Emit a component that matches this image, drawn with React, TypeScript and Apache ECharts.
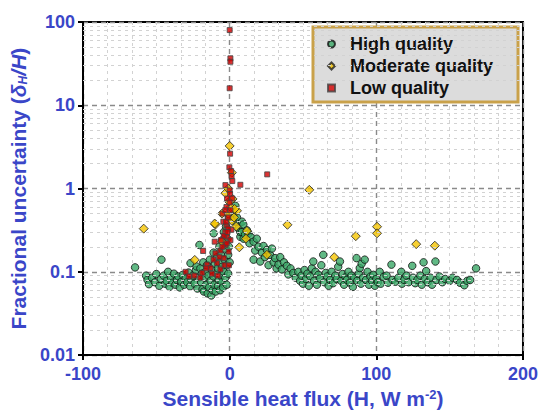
import React, { useEffect, useRef } from "react";
import * as echarts from "echarts";

const xTicks = [-100, 0, 100, 200];
const yDecades = [0.01, 0.1, 1, 10, 100];
const minorY = [
  0.02, 0.03, 0.04, 0.05, 0.06, 0.07, 0.08, 0.09,
  0.2, 0.3, 0.4, 0.5, 0.6, 0.7, 0.8, 0.9,
  2, 3, 4, 5, 6, 7, 8, 9,
  20, 30, 40, 50, 60, 70, 80, 90,
];

const highQuality: [number, number][] = [
  [-64.5, 0.113], [-57, 0.09], [-56, 0.08], [-55, 0.071], [-53, 0.085], [-51, 0.075], [-50, 0.094], [-48, 0.068],
  [-47, 0.082], [-46.5, 0.14], [-45, 0.09], [-44, 0.072], [-43, 0.078], [-42, 0.1], [-41, 0.066], [-40, 0.085],
  [-39, 0.074], [-38, 0.095], [-37, 0.07], [-36, 0.08], [-35, 0.088], [-34, 0.065], [-33, 0.076], [-32, 0.092],
  [-31, 0.07], [-30, 0.083], [-29, 0.075], [-28, 0.098], [-27, 0.067], [-26.7, 0.127], [-26, 0.08], [-25, 0.09],
  [-24, 0.072], [-23, 0.105], [-22.6, 0.116], [-22, 0.063], [-21, 0.085],
  [-20.6, 0.21], [-20, 0.11], [-19.5, 0.075], [-19, 0.095], [-18.5, 0.062], [-18, 0.13], [-17.6, 0.058], [-17, 0.085],
  [-16.5, 0.1], [-16, 0.07], [-15.5, 0.12], [-15, 0.055], [-14.5, 0.09], [-14, 0.065], [-13.5, 0.14], [-13, 0.078],
  [-12.5, 0.052], [-12, 0.105], [-11.5, 0.06], [-11, 0.17], [-10.9, 0.29], [-11, 0.088], [-10.5, 0.07], [-10, 0.125],
  [-9.5, 0.058], [-9, 0.095], [-8.5, 0.15], [-8, 0.068], [-8, 0.11], [-7.5, 0.08], [-7, 0.2], [-7, 0.13],
  [-6.5, 0.06], [-6, 0.09], [-6, 0.16], [-5.5, 0.075], [-5, 0.24], [-5, 0.115], [-4.5, 0.065], [-4, 0.1],
  [-4, 0.3], [-3.5, 0.14], [-3, 0.085], [-3, 0.19], [-2.5, 0.35], [-2, 0.12], [-2, 0.07], [-1.5, 0.25],
  [-1, 0.16], [-1, 0.095], [-0.5, 0.45], [-0.5, 0.2], [0, 0.13],
  [2.7, 0.5], [3.9, 0.62], [3.9, 0.4], [5, 0.45], [6.1, 0.33], [7.3, 0.263], [7.3, 0.3], [8.4, 0.4],
  [8.4, 0.3], [9.3, 0.37], [9.5, 0.25], [10.5, 0.28], [11.8, 0.315], [12.9, 0.288], [13.5, 0.22], [14.5, 0.26],
  [16.3, 0.23], [16.3, 0.14], [17.4, 0.18], [18.5, 0.25], [19.7, 0.2], [20.8, 0.133], [22, 0.17], [23.1, 0.204],
  [24, 0.15], [25.4, 0.183], [26.5, 0.12], [27.5, 0.16], [28.8, 0.19], [30, 0.13], [31, 0.146], [32, 0.11],
  [33.3, 0.122], [34.5, 0.15], [35.6, 0.107], [37, 0.13], [39, 0.118], [40, 0.093], [41.5, 0.11], [43.4, 0.097],
  [45, 0.085], [46.8, 0.1], [48, 0.078],
  [49, 0.09], [50, 0.072], [51, 0.105], [52, 0.082], [53, 0.095], [54, 0.068], [55, 0.088], [56, 0.11],
  [57, 0.133], [57.5, 0.078], [58.5, 0.1], [59.5, 0.07], [60.5, 0.092], [61.5, 0.083], [62.5, 0.12], [63.8, 0.16],
  [64.5, 0.075], [65.5, 0.097], [66.5, 0.088], [67.5, 0.068], [68.5, 0.08], [69.5, 0.1], [70.5, 0.073], [72, 0.09],
  [73, 0.082], [74, 0.115], [75.2, 0.133], [76, 0.078], [77, 0.094], [78, 0.07], [79, 0.086], [80, 0.08],
  [81, 0.1], [82, 0.074], [83, 0.09], [84, 0.066], [85, 0.085], [86.5, 0.146], [87, 0.078], [88, 0.095],
  [88.7, 0.111], [89.5, 0.072], [90, 0.125], [91, 0.085], [92.1, 0.14], [93, 0.08], [94, 0.1], [95, 0.07],
  [96, 0.088], [97, 0.078], [98, 0.092], [99, 0.068], [100, 0.082], [101, 0.075], [102.3, 0.1], [103, 0.072],
  [105, 0.087], [107, 0.09], [108, 0.074], [110.3, 0.122], [111, 0.08], [113, 0.076], [115, 0.085], [117, 0.1],
  [117.5, 0.072], [119, 0.08], [120.5, 0.09], [122, 0.075], [124.5, 0.118], [125, 0.085], [126.5, 0.073], [128, 0.08],
  [130, 0.09], [131, 0.07], [132.2, 0.13], [133, 0.082], [134, 0.102], [135, 0.075], [137, 0.085], [138, 0.07],
  [140.3, 0.133], [141, 0.08], [143, 0.088], [145, 0.075], [147, 0.082], [150, 0.078], [152, 0.085], [155, 0.08],
  [157, 0.074], [160, 0.069], [162, 0.078], [164, 0.08], [168, 0.11],
];

const moderateQuality: [number, number][] = [
  [-58.6, 0.33], [54.3, 0.965], [39.4, 0.367], [86, 0.268], [100.5, 0.348], [100.5, 0.29], [127.2, 0.215],
  [139.9, 0.206], [71.3, 0.15], [6.6, 0.197], [25.4, 0.16], [5, 0.54], [11.8, 0.31], [11.1, 0.25],
  [0, 3.25], [1.5, 1.55], [-2.9, 0.88], [0.8, 0.6], [-5.2, 0.5], [-1, 0.5], [3.4, 0.57], [-9.7, 0.37],
  [1.6, 0.41], [4.5, 0.35], [-23.8, 0.139], [-10.2, 0.38], [-5.2, 0.23], [-0.5, 0.7], [2, 0.75], [-1, 1.0],
  [3, 0.45],
];

const lowQuality: [number, number][] = [
  [0, 80], [0.5, 36.6], [0.5, 33.3], [0, 16], [0.3, 2.62], [-0.2, 1.8], [1, 1.62], [1.3, 1.41],
  [1.8, 1.23], [-2.9, 1.1], [7.3, 1.11], [25.6, 1.48], [0, 0.95], [0.3, 0.86], [-1.8, 0.76], [1.8, 0.76],
  [-2.2, 0.6], [0, 0.68], [-5, 0.5], [-4.3, 0.4], [-2.2, 0.36], [-2.4, 0.4], [1.2, 0.32], [-18.1, 0.178],
  [-10.2, 0.23], [-6.3, 0.18], [-1.8, 0.263], [-4, 0.146], [-15.4, 0.122], [-13.1, 0.111], [-18.7, 0.097],
  [-30, 0.1], [-27.8, 0.088], [-8.6, 0.127], [-6.3, 0.107], [-9.7, 0.167], [-2.9, 0.21], [-0.7, 0.175],
  [0.5, 0.24], [-3, 0.3], [-1, 0.33], [-4, 0.27], [-2, 0.22], [-5, 0.2], [-7, 0.15], [-11, 0.14],
  [-12, 0.095], [-8, 0.09], [-3.5, 0.12], [-1, 0.45], [-3, 0.55], [0.5, 0.55], [-1.5, 0.3], [-6, 0.24],
  [-0.5, 0.12], [-20, 0.085], [-24, 0.09], [-16, 0.11],
];

const BLUE = "#3a46c8";
const FONT = "Liberation Sans, Arial, sans-serif";

export default function App() {
  const ref = useRef<HTMLDivElement>(null);
  useEffect(() => {
    if (!ref.current) return;
    const chart = echarts.init(ref.current, null, { renderer: "svg" });
    const option: any = {
      animation: false,
      backgroundColor: "#ffffff",
      grid: {
        left: 83, right: 17, top: 22, bottom: 54,
        show: true, borderColor: "#000", borderWidth: 2, backgroundColor: "transparent",
      },
      legend: {
        data: ["High quality", "Moderate quality", "Low quality"],
        orient: "vertical",
        left: 313, top: 27,
        backgroundColor: "#dcdcdc",
        borderColor: "#c9a14a",
        borderWidth: 3,
        padding: [8, 25, 5, 14],
        itemWidth: 7, itemHeight: 7, itemGap: 4,
        textStyle: { fontSize: 18, fontWeight: "bold", color: "#111", fontFamily: FONT, lineHeight: 18, padding: [0, 0, 0, 10] },
      },
      xAxis: {
        type: "value",
        min: xTicks[0], max: xTicks[xTicks.length - 1], interval: 100,
        name: "{a|Sensible heat flux (H, W m}{s|-2}{a|)}",
        nameLocation: "middle", nameGap: 32,
        nameTextStyle: {
          rich: {
            a: { fontSize: 21, fontWeight: "bold", color: BLUE, fontFamily: FONT },
            s: { fontSize: 13, fontWeight: "bold", color: BLUE, fontFamily: FONT, verticalAlign: "top", padding: [0, 0, 8, 0] },
          },
        },
        axisLine: { show: true, onZero: false, lineStyle: { color: "#000", width: 2 } },
        axisTick: { show: true, length: 5, lineStyle: { color: "#000", width: 2 } },
        axisLabel: { fontSize: 18, fontWeight: "bold", color: BLUE, fontFamily: FONT, margin: 10 },
        splitLine: { show: true, lineStyle: { color: "#8a8a8a", type: [5, 4], width: 1.4 } },
        minorTick: { show: false, splitNumber: 6 },
        minorSplitLine: { show: true, lineStyle: { color: "#d2d2d2", type: [3, 4], width: 1 } },
      },
      yAxis: {
        type: "log", logBase: 10,
        min: yDecades[0], max: yDecades[yDecades.length - 1],
        name: "{a|Fractional uncertainty (}{i|δ}{u|H}{i|/H}{a|)}",
        nameLocation: "middle", nameGap: 50,
        nameTextStyle: {
          rich: {
            a: { fontSize: 21, fontWeight: "bold", color: BLUE, fontFamily: FONT },
            i: { fontSize: 21, fontWeight: "bold", fontStyle: "italic", color: BLUE, fontFamily: FONT },
            u: { fontSize: 12, fontWeight: "bold", fontStyle: "italic", color: BLUE, fontFamily: FONT, verticalAlign: "bottom", padding: [8, 0, 0, 0] },
          },
        },
        axisLine: { show: true, onZero: false, lineStyle: { color: "#000", width: 2 } },
        axisTick: { show: true, length: 5, lineStyle: { color: "#000", width: 2 } },
        axisLabel: { fontSize: 18, fontWeight: "bold", color: BLUE, fontFamily: FONT, margin: 8 },
        splitLine: { show: true, lineStyle: { color: "#8a8a8a", type: [5, 4], width: 1.4 } },
      },
      series: [
        {
          name: "grid-minor",
          type: "scatter",
          data: [],
          z: 1,
          silent: true,
          markLine: {
            silent: true,
            symbol: "none",
            label: { show: false },
            lineStyle: { color: "#d2d2d2", type: [3, 4], width: 1 },
            data: minorY.map((v) => ({ yAxis: v })),
          },
        },
        {
          name: "High quality",
          type: "scatter",
          symbol: "circle",
          symbolSize: 7.5,
          data: highQuality,
          itemStyle: { color: "#3aa866", borderColor: "#111", borderWidth: 1 },
          z: 3,
        },
        {
          name: "Moderate quality",
          type: "scatter",
          symbol: "diamond",
          symbolSize: 9,
          data: moderateQuality,
          itemStyle: { color: "#f5c400", borderColor: "#222", borderWidth: 1 },
          z: 4,
        },
        {
          name: "Low quality",
          type: "scatter",
          symbol: "rect",
          symbolSize: 5,
          data: lowQuality,
          itemStyle: { color: "#d40000", borderColor: "#444", borderWidth: 1 },
          z: 5,
        },
      ],
    };
    chart.setOption(option);
    return () => chart.dispose();
  }, []);
  return <div ref={ref} style={{ width: 541, height: 414, position: "absolute", left: 0, top: 0 }} />;
}
